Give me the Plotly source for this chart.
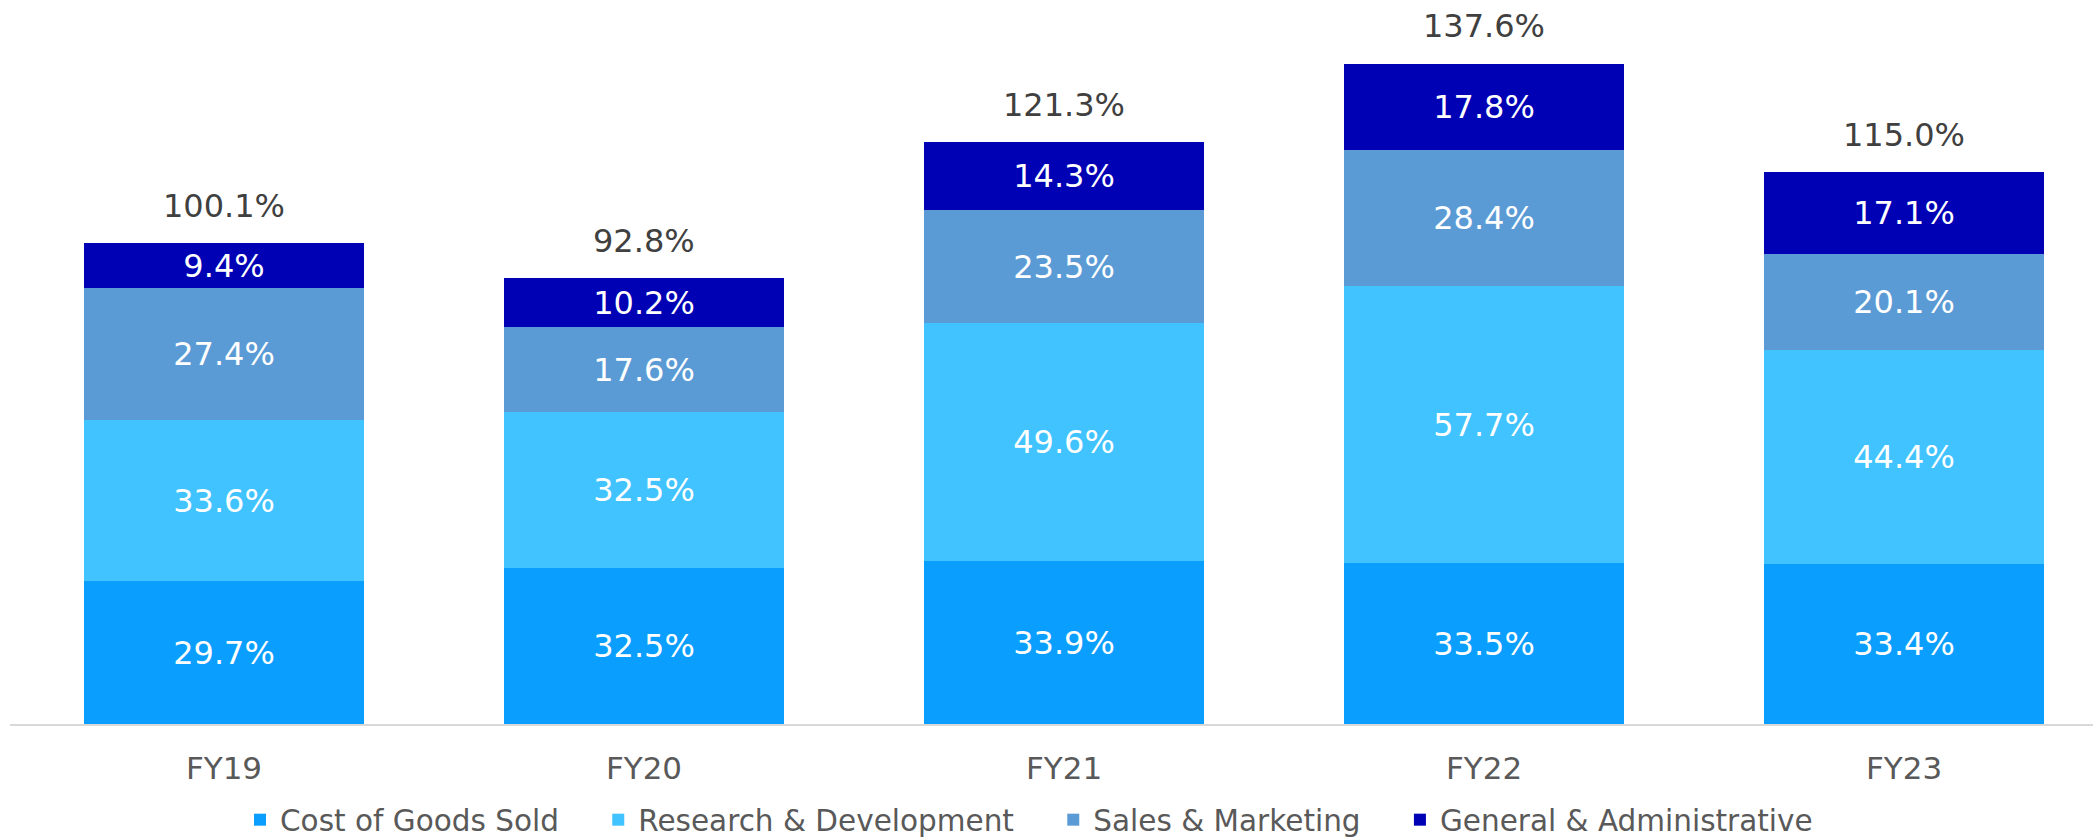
import plotly.graph_objects as go

categories = ["FY19", "FY20", "FY21", "FY22", "FY23"]
cogs = [29.7, 32.5, 33.9, 33.5, 33.4]
rnd = [33.6, 32.5, 49.6, 57.7, 44.4]
snm = [27.4, 17.6, 23.5, 28.4, 20.1]
gna = [9.4, 10.2, 14.3, 17.8, 17.1]
totals = [100.1, 92.8, 121.3, 137.6, 115.0]
series_names = ["Cost of Goods Sold", "Research & Development",
                "Sales & Marketing", "General & Administrative"]
series_colors = ["#0A9EFF", "#40C3FF", "#5B9BD5", "#0000B4"]

FONT = "DejaVu Sans, Verdana, sans-serif"
PAD = '<span style="font-size:27px">&nbsp;&nbsp;&nbsp;&nbsp;</span>'

fig = go.Figure()
for i, (name, vals, color) in enumerate(zip(series_names, [cogs, rnd, snm, gna], series_colors)):
    label = name + (PAD if i < 3 else "")
    fig.add_trace(go.Bar(
        x=categories, y=vals, name=label,
        marker=dict(color=color, line=dict(width=0)),
        text=[f"{v:.1f}%" for v in vals],
        textposition="inside", insidetextanchor="middle",
        textfont=dict(family=FONT, size=32, color="white"),
        hoverinfo="skip",
    ))

for c, t in zip(categories, totals):
    fig.add_annotation(x=c, y=t, text=f"{t:.1f}%", showarrow=False,
                       yanchor="middle", yshift=37,
                       font=dict(family=FONT, size=32, color="#404040"))

fig.update_layout(
    width=2093, height=839,
    barmode="stack", bargap=0.333,
    margin=dict(l=10, r=0, t=10, b=115, autoexpand=False),
    plot_bgcolor="white", paper_bgcolor="white",
    xaxis=dict(range=[-0.5095, 4.45], showline=True, linecolor="#D9D9D9", linewidth=2,
               ticks="", showgrid=False, ticklabelstandoff=16,
               tickfont=dict(family=FONT, size=31, color="#595959")),
    yaxis=dict(range=[0, 148.7], visible=False, showgrid=False),
    legend=dict(orientation="h", xref="container", yref="container",
                x=240 / 2093, xanchor="left", y=1 - 820 / 839, yanchor="middle",
                font=dict(family=FONT, size=29.5, color="#595959"),
                traceorder="normal", itemclick=False, itemdoubleclick=False),
    showlegend=True,
)

fig.write_html("out.html", config={"displayModeBar": False},
               post_script="document.body.style.margin='0';")
